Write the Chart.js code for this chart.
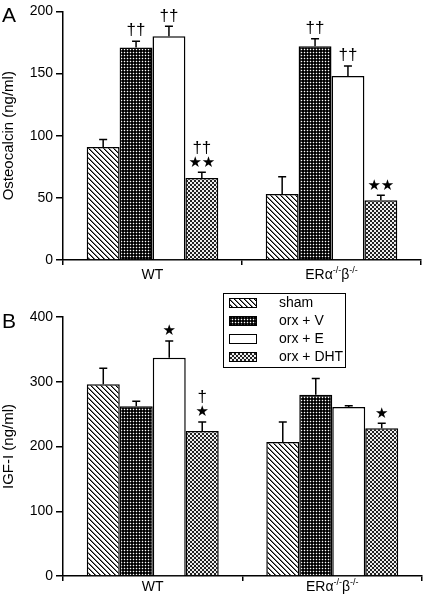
<!DOCTYPE html>
<html>
<head>
<meta charset="utf-8">
<script src="https://cdn.jsdelivr.net/npm/chart.js@4.4.1/dist/chart.umd.min.js"></script>
<style>
body { margin: 0; background: #fff; width: 425px; height: 600px; overflow: hidden; }
canvas { display: block; }
</style>
</head>
<body>
<canvas id="panelA" width="425" height="285"></canvas>
<canvas id="panelB" width="425" height="315"></canvas>
<script>
// groups, {..} marks a superscript
var groups = ['WT', 'ERα{-/-}β{-/-}'];
var treatments = ['sham', 'orx + V', 'orx + E', 'orx + DHT'];

// panel A: osteocalcin (ng/ml), values per group [WT, ER]
var osteoSham = [91, 53];
var osteoV = [171, 172];
var osteoE = [180, 148];
var osteoDHT = [66, 48];
var osteoShamErr = [6, 14];
var osteoVErr = [5, 6];
var osteoEErr = [8, 8];
var osteoDHTErr = [4.5, 4];
var osteoMarks = [['', ''], ['††', '††'], ['††', '††'], ['††|★★', '★★']];
var osteoTicks = [0, 50, 100, 150, 200];

// panel B: IGF-I (ng/ml)
var igfSham = [296, 207];
var igfV = [262, 280];
var igfE = [337, 261];
var igfDHT = [224, 228];
var igfShamErr = [25, 31];
var igfVErr = [8, 25];
var igfEErr = [26, 2];
var igfDHTErr = [14, 8];
var igfMarks = [['', ''], ['', ''], ['★', ''], ['†|★', '★']];
var igfTicks = [0, 100, 200, 300, 400];

function makeTile(size, fn) {
    var c = document.createElement('canvas');
    c.width = size; c.height = size;
    var g = c.getContext('2d');
    for (var y = 0; y < size; y++) {
        for (var x = 0; x < size; x++) {
            g.fillStyle = fn(x, y);
            g.fillRect(x, y, 1, 1);
        }
    }
    return g.createPattern(c, 'repeat');
}

var fills = [
    makeTile(5, function (x, y) {
        var d = ((x - y) % 5 + 5) % 5;
        return d === 0 ? '#000' : (d === 1 ? '#777' : '#fff');
    }),
    makeTile(3, function (x, y) {
        return (x === 1 && y === 1) ? '#fff' : (x === 1 || y === 1 ? '#333' : '#000');
    }),
    '#fff',
    makeTile(4, function (x, y) {
        return ((Math.floor(x / 2) + Math.floor(y / 2)) % 2) ? '#222' : '#eee';
    })
];

function drawRich(ctx, label, cx, cy) {
    var parts = label.split(/(\{[^}]*\})/).filter(function (s) { return s.length; });
    var base = '14px "Liberation Sans", Arial, sans-serif';
    var sup = '9px "Liberation Sans", Arial, sans-serif';
    var total = 0;
    parts.forEach(function (p) {
        ctx.font = p[0] === '{' ? sup : base;
        total += ctx.measureText(p[0] === '{' ? p.slice(1, -1) : p).width;
    });
    var x = cx - total / 2;
    ctx.textAlign = 'left';
    ctx.textBaseline = 'middle';
    parts.forEach(function (p) {
        var isSup = p[0] === '{';
        var t = isSup ? p.slice(1, -1) : p;
        ctx.font = isSup ? sup : base;
        ctx.fillText(t, x, isSup ? cy - 4 : cy);
        x += ctx.measureText(t).width;
    });
}

var extras = {
    id: 'extras',
    afterDatasetsDraw: function (chart, args, opts) {
        var ctx = chart.ctx;
        var ys = chart.scales.y;
        ctx.save();
        ctx.strokeStyle = '#000';
        ctx.fillStyle = '#000';
        ctx.lineWidth = 1.5;
        chart.data.datasets.forEach(function (ds, i) {
            var meta = chart.getDatasetMeta(i);
            meta.data.forEach(function (bar, j) {
                var top = ys.getPixelForValue(ds.data[j] + opts.errors[i][j]);
                ctx.beginPath();
                ctx.moveTo(bar.x, bar.y);
                ctx.lineTo(bar.x, top);
                ctx.moveTo(bar.x - 4, top);
                ctx.lineTo(bar.x + 4, top);
                ctx.stroke();
                var mark = opts.marks[i][j];
                if (!mark) return;
                var lines = mark.split('|');
                var y = top - 2;
                ctx.textAlign = 'center';
                ctx.textBaseline = 'bottom';
                for (var k = lines.length - 1; k >= 0; k--) {
                    if (lines[k].indexOf('★') >= 0) {
                        ctx.font = '15px "DejaVu Sans", sans-serif';
                        ctx.fillText(lines[k], bar.x, y);
                        y -= 14;
                    } else {
                        ctx.font = '17px "Liberation Sans", Arial, sans-serif';
                        ctx.fillText(lines[k], bar.x, y);
                        y -= 16;
                    }
                }
            });
        });
        // category labels
        var xs = chart.scales.x;
        ctx.fillStyle = '#000';
        groups.forEach(function (g, i) {
            drawRich(ctx, g, xs.getPixelForValue(i), xs.top + opts.labelOffset);
        });
        // panel letter
        ctx.font = '21px "Liberation Sans", Arial, sans-serif';
        ctx.textAlign = 'left';
        ctx.textBaseline = 'alphabetic';
        ctx.fillText(opts.letter, 2, opts.letterY);
        if (opts.legend) {
            var lx = 223, ly = 8;
            ctx.lineWidth = 1;
            ctx.strokeRect(lx + 0.5, ly + 0.5, 122, 74);
            ctx.font = '14px "Liberation Sans", Arial, sans-serif';
            ctx.textBaseline = 'middle';
            treatments.forEach(function (t, i) {
                var ry = ly + 10 + i * 18;
                ctx.fillStyle = fills[i];
                ctx.fillRect(lx + 6, ry - 5, 28, 10);
                ctx.strokeRect(lx + 6.5, ry - 4.5, 27, 9);
                ctx.fillStyle = '#000';
                ctx.fillText(t, lx + 56, ry);
            });
        }
        ctx.restore();
    }
};

function makePanel(id, series, errors, marks, ticks, title, pad, xHeight, extraOpts) {
    var datasets = series.map(function (vals, i) {
        return {
            label: treatments[i],
            data: vals,
            backgroundColor: fills[i],
            borderColor: '#000',
            borderWidth: 1.5,
            barPercentage: 1.0,
            categoryPercentage: 0.735
        };
    });
    var o = {
        errors: errors,
        marks: marks,
        labelOffset: extraOpts.labelOffset,
        letter: extraOpts.letter,
        letterY: extraOpts.letterY,
        legend: extraOpts.legend
    };
    return new Chart(document.getElementById(id), {
        type: 'bar',
        data: { labels: groups, datasets: datasets },
        options: {
            responsive: false,
            animation: false,
            layout: { padding: pad },
            plugins: { legend: { display: false }, tooltip: { enabled: false }, extras: o },
            scales: {
                x: {
                    grid: { display: true, drawOnChartArea: false, color: '#000', lineWidth: 1.5, tickLength: 5 },
                    border: { display: true, color: '#000', width: 1.5 },
                    ticks: { display: true, callback: function () { return ''; } },
                    afterFit: function (s) { s.height = xHeight; }
                },
                y: {
                    min: ticks[0],
                    max: ticks[ticks.length - 1],
                    afterBuildTicks: function (s) { s.ticks = ticks.map(function (v) { return { value: v }; }); },
                    grid: { display: true, drawOnChartArea: false, color: '#000', lineWidth: 1.5, tickLength: 7 },
                    border: { display: true, color: '#000', width: 1.5 },
                    ticks: { color: '#000', padding: 3, font: { family: '"Liberation Sans", Arial, sans-serif', size: 14 } },
                    title: { display: true, text: title, color: '#000', padding: { top: 0, bottom: 0 },
                        font: { family: '"Liberation Sans", Arial, sans-serif', size: 15 } },
                    afterFit: function (s) { s.width = 63; }
                }
            }
        },
        plugins: [extras]
    });
}

makePanel('panelA',
    [osteoSham, osteoV, osteoE, osteoDHT],
    [osteoShamErr, osteoVErr, osteoEErr, osteoDHTErr],
    osteoMarks, osteoTicks, 'Osteocalcin (ng/ml)',
    { left: 0, right: 4, top: 10, bottom: 0 }, 25,
    { labelOffset: 15, letter: 'A', letterY: 22, legend: false });

makePanel('panelB',
    [igfSham, igfV, igfE, igfDHT],
    [igfShamErr, igfVErr, igfEErr, igfDHTErr],
    igfMarks, igfTicks, 'IGF-I (ng/ml)',
    { left: 0, right: 3, top: 32, bottom: 0 }, 24,
    { labelOffset: 11, letter: 'B', letterY: 43, legend: true });
</script>
</body>
</html>
